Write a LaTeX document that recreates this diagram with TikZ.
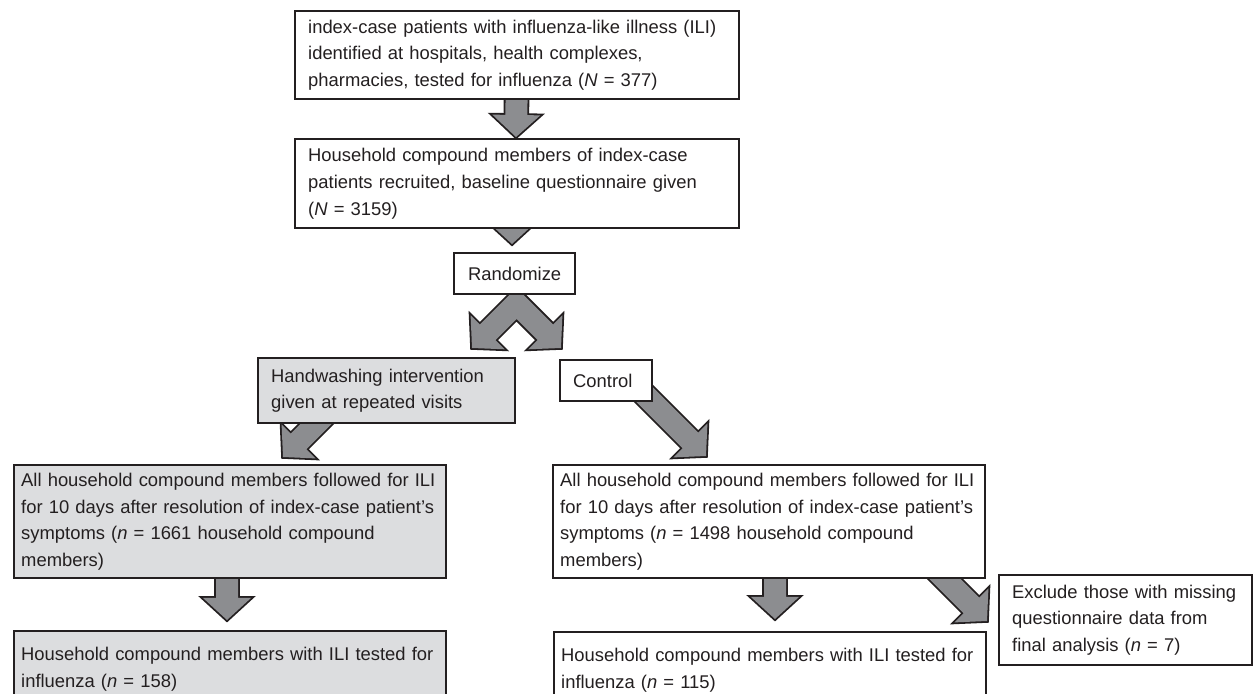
\documentclass[tikz,border=0pt]{standalone}
\usepackage{fontspec}
\setmainfont{Liberation Sans}
\usetikzlibrary{calc,backgrounds}
\definecolor{ink}{HTML}{231F20}
\definecolor{boxgray}{HTML}{DCDDDF}
\definecolor{arrowgray}{HTML}{8C8D90}
\tikzset{
  box/.style={draw=ink, line width=1.2pt, fill=white, text=ink, anchor=north west, align=left, inner xsep=6.5pt, inner ysep=0pt, font=\fontsize{9.2}{13.35}\selectfont},
  shaded/.style={box, fill=boxgray},
  wide/.style={inner xsep=3.5pt, text width=209pt, minimum height=56.5pt},
  fatline/.style={draw=ink, line width=1.8pt, line join=miter},
  fatfill/.style={fill=arrowgray},
}
% block arrow: #1 style, #2 start, #3 tip
\newcommand{\fatpath}[3]{%
  \coordinate (fa) at #2;
  \coordinate (fb) at #3;
  \coordinate (fh) at ($(fb)!11pt!(fa)$);
  \path[#1] ($(fa)!5.5pt!90:(fb)$) -- ($(fh)!5.5pt!90:(fb)$) -- ($(fh)!12pt!90:(fb)$) -- (fb)
    -- ($(fh)!12pt!-90:(fb)$) -- ($(fh)!5.5pt!-90:(fb)$) -- ($(fa)!5.5pt!-90:(fb)$) -- cycle;
}
% two-way split arrow below Randomize, #1 style
\newcommand{\splitpath}[1]{%
  \path[#1, shift={(split)}] (0,-31.2) -- (36.7,5.5) -- (45.9,-3.7) -- (44.5,29) -- (11.9,30.3)
    -- (21.1,21.1) -- (0,0) -- (-21.1,21.1) -- (-11.9,30.3) -- (-44.5,29) -- (-45.9,-3.7)
    -- (-36.7,5.5) -- cycle;
}

\begin{document}
\begin{tikzpicture}[x=0.5pt, y=-0.5pt]
  \useasboundingbox (0,0) rectangle (1253,694);

  \node[box, text width=209pt, minimum height=44pt] (index) at (294,10)
    {index-case patients with influenza-like illness (ILI)\\identified at hospitals, health complexes,\\pharmacies, tested for influenza (\textit{N} = 377)};
  \node[box, text width=209pt, minimum height=44.5pt] (household) at (294,138)
    {Household compound members of index-case\\patients recruited, baseline questionnaire given\\(\textit{N} = 3159)};
  \node[box, align=center, minimum width=60.5pt, minimum height=20.5pt] (randomize) at (453,252) {Randomize};

  \node[shaded, text width=115.5pt, minimum height=32.5pt] (handwash) at (257,357)
    {Handwashing intervention\\given at repeated visits};
  \node[box, text width=33pt, minimum height=20.5pt] (control) at (559,359) {Control};

  \node[shaded, wide] (armhand) at (13,464)
    {All household compound members followed for ILI\\for 10 days after resolution of index-case patient’s\\symptoms (\textit{n} = 1661 household compound\\members)};
  \node[box, wide] (armctrl) at (552,464)
    {All household compound members followed for ILI\\for 10 days after resolution of index-case patient’s\\symptoms (\textit{n} = 1498 household compound\\members)};

  \node[shaded, wide, minimum height=38pt] (testhand) at (13,630)
    {Household compound members with ILI tested for\\influenza (\textit{n} = 158)};
  \node[box, wide, minimum height=38pt] (testctrl) at (553,631)
    {Household compound members with ILI tested for\\influenza (\textit{n} = 115)};
  \node[box, text width=113.5pt, minimum height=45pt] (exclude) at (998,574)
    {Exclude those with missing\\questionnaire data from\\final analysis (\textit{n} = 7)};

  % arrow ends
  \coordinate (s1) at (index.center);       \coordinate (t1) at (516,137);
  \coordinate (s2) at (512,200);            \coordinate (t2) at (512,244);
  \coordinate (split) at (516.5,319);
  \coordinate (s5) at (333,407);            \coordinate (t5) at (283,457);
  \coordinate (s6) at (626,376);            \coordinate (t6) at (706,456);
  \coordinate (s7) at (227,540);            \coordinate (t7) at (227,620);
  \coordinate (s8) at (775,540);            \coordinate (t8) at (775,619);
  \coordinate (s9) at (927,561);            \coordinate (t9) at (987,621);

  \begin{scope}[on background layer]
    \splitpath{fatline}
    \foreach \i in {1,2,5,6,7,8,9} {\fatpath{fatline}{(s\i)}{(t\i)}}
    \splitpath{fatfill}
    \foreach \i in {1,2,5,6,7,8,9} {\fatpath{fatfill}{(s\i)}{(t\i)}}
  \end{scope}
\end{tikzpicture}
\end{document}
